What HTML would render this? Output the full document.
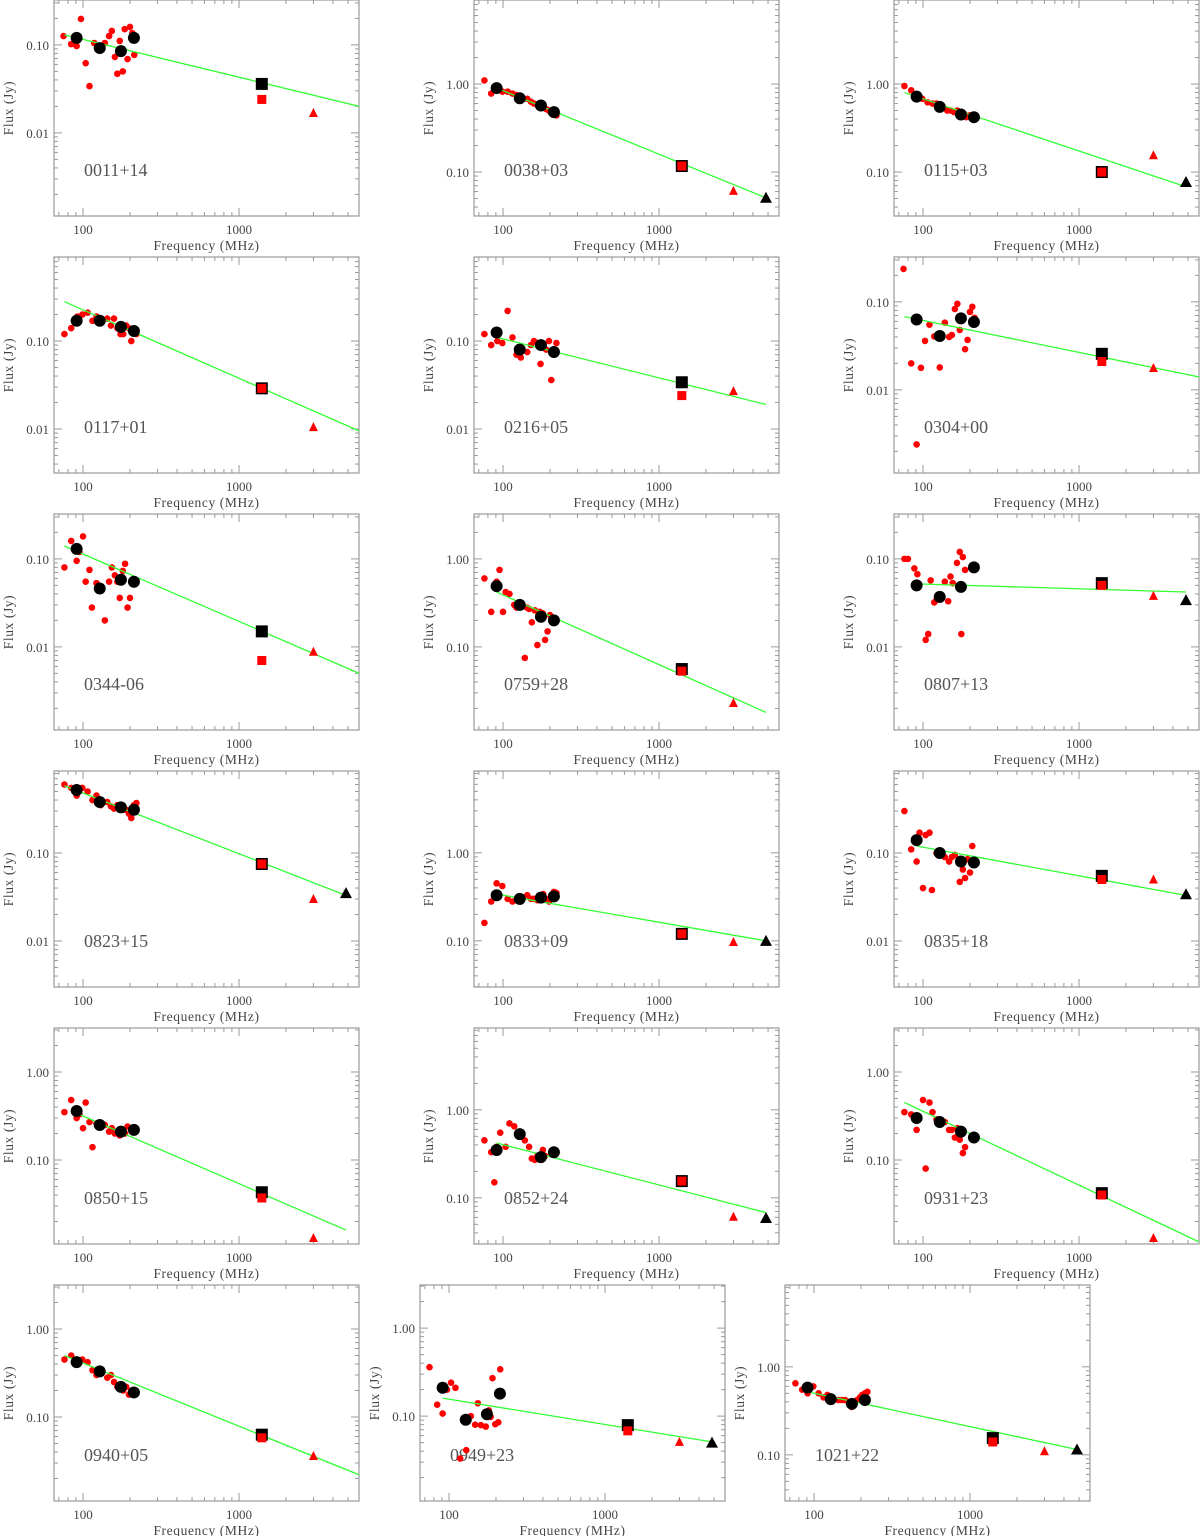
<!DOCTYPE html>
<html><head><meta charset="utf-8"><style>
html,body{margin:0;padding:0;background:#fff;}
svg{display:block;}
text{font-family:"Liberation Serif",serif;}
</style></head>
<body>
<svg id="chart" width="1200" height="1536" viewBox="0 0 1200 1536" xmlns="http://www.w3.org/2000/svg"></svg>
<script>
const names=["0011+14","0038+03","0115+03","0117+01","0216+05","0304+00","0344-06","0759+28","0807+13","0823+15","0833+09","0835+18","0850+15","0852+24","0931+23","0940+05","0949+23","1021+22"];
const yTops=[-0.49,0.955,0.955,-0.045,-0.045,-0.49,-0.49,0.51,-0.49,-0.068,0.93,-0.068,0.5,0.93,0.5,0.5,0.49,0.93];
const redDots=[
[[75,0.126],[84,0.102],[91,0.097],[97,0.197],[104,0.062],[110,0.034],[118,0.105],[138,0.105],[147,0.126],[153,0.144],[160,0.073],[166,0.047],[172,0.111],[180,0.05],[185,0.151],[193,0.069],[200,0.16],[207,0.136],[213,0.077]],
[[76,1.1],[84,0.78],[92,0.95],[99,0.82],[107,0.82],[115,0.78],[122,0.75],[130,0.7],[143,0.68],[151,0.63],[158,0.6],[166,0.58],[174,0.55],[181,0.55],[189,0.52],[197,0.5],[204,0.47],[212,0.46],[220,0.44]],
[[76,0.95],[84,0.85],[92,0.75],[99,0.68],[107,0.62],[115,0.6],[122,0.6],[130,0.58],[143,0.5],[151,0.5],[158,0.48],[166,0.5],[174,0.45],[181,0.47],[189,0.42],[197,0.44],[204,0.43],[212,0.42]],
[[76,0.12],[84,0.14],[92,0.19],[99,0.2],[107,0.21],[115,0.17],[122,0.19],[130,0.16],[143,0.18],[151,0.15],[158,0.18],[166,0.14],[174,0.12],[181,0.12],[189,0.15],[197,0.14],[204,0.1],[212,0.13],[220,0.12]],
[[76,0.12],[84,0.09],[92,0.1],[99,0.095],[107,0.22],[115,0.11],[122,0.07],[130,0.065],[143,0.075],[151,0.09],[158,0.1],[166,0.095],[174,0.055],[181,0.09],[189,0.08],[197,0.1],[204,0.036],[212,0.07],[220,0.095]],
[[75,0.237],[84,0.02],[91,0.0024],[97,0.0178],[103,0.036],[110,0.055],[118,0.0405],[128,0.018],[138,0.058],[147,0.04],[153,0.042],[160,0.083],[166,0.095],[172,0.048],[180,0.062],[186,0.029],[193,0.037],[200,0.077],[207,0.088],[214,0.066]],
[[76,0.08],[84,0.16],[91,0.095],[95,0.12],[100,0.18],[104,0.055],[110,0.075],[114,0.028],[122,0.053],[138,0.02],[147,0.055],[153,0.08],[160,0.065],[166,0.055],[172,0.036],[180,0.073],[186,0.088],[193,0.028],[200,0.036]],
[[76,0.6],[84,0.25],[91,0.55],[95,0.75],[100,0.25],[104,0.42],[110,0.4],[118,0.3],[122,0.28],[128,0.32],[138,0.075],[142,0.28],[147,0.27],[153,0.19],[160,0.26],[166,0.105],[172,0.25],[180,0.24],[186,0.12],[193,0.15],[200,0.23]],
[[76,0.1],[80,0.1],[88,0.078],[92,0.067],[104,0.012],[108,0.014],[112,0.057],[118,0.032],[122,0.034],[138,0.055],[145,0.033],[150,0.063],[155,0.053],[165,0.09],[172,0.12],[180,0.105],[186,0.075],[176,0.014]],
[[76,0.6],[84,0.55],[91,0.45],[99,0.55],[107,0.5],[115,0.4],[122,0.45],[130,0.35],[143,0.38],[151,0.34],[158,0.32],[166,0.35],[174,0.33],[181,0.31],[189,0.31],[197,0.28],[204,0.25],[212,0.35],[220,0.37]],
[[76,0.16],[84,0.28],[91,0.45],[99,0.42],[107,0.3],[115,0.28],[122,0.29],[130,0.28],[143,0.33],[151,0.3],[158,0.3],[166,0.29],[174,0.3],[181,0.34],[189,0.3],[197,0.28],[204,0.33],[212,0.36],[220,0.35]],
[[76,0.3],[84,0.11],[91,0.08],[95,0.17],[100,0.04],[104,0.16],[110,0.17],[114,0.038],[122,0.1],[138,0.09],[147,0.08],[153,0.09],[160,0.095],[172,0.047],[180,0.065],[186,0.052],[193,0.085],[200,0.06],[207,0.12]],
[[76,0.35],[84,0.48],[91,0.3],[95,0.33],[100,0.23],[104,0.45],[110,0.27],[115,0.14],[122,0.26],[138,0.25],[147,0.21],[153,0.23],[160,0.2],[166,0.21],[172,0.19],[180,0.22],[186,0.2],[193,0.24]],
[[76,0.45],[84,0.33],[88,0.15],[91,0.38],[96,0.55],[104,0.38],[110,0.7],[118,0.65],[125,0.5],[138,0.45],[147,0.38],[153,0.28],[160,0.27],[166,0.3],[172,0.3],[180,0.35],[186,0.3]],
[[76,0.35],[84,0.33],[91,0.22],[100,0.48],[104,0.08],[110,0.45],[115,0.35],[122,0.29],[138,0.27],[147,0.22],[153,0.22],[160,0.18],[166,0.23],[172,0.17],[180,0.12],[186,0.14]],
[[76,0.45],[84,0.5],[91,0.42],[99,0.45],[107,0.42],[115,0.34],[122,0.3],[130,0.35],[143,0.28],[151,0.3],[158,0.25],[166,0.22],[174,0.22],[181,0.2],[189,0.22],[197,0.18],[204,0.2],[212,0.18],[220,0.19]],
[[75,0.36],[84,0.135],[91,0.107],[97,0.2],[103,0.24],[110,0.21],[118,0.033],[129,0.041],[138,0.1],[147,0.08],[153,0.14],[160,0.079],[172,0.076],[180,0.116],[185,0.098],[190,0.27],[198,0.081],[207,0.085],[213,0.34]],
[[76,0.65],[84,0.55],[91,0.5],[99,0.6],[107,0.5],[115,0.45],[122,0.48],[130,0.42],[143,0.42],[151,0.42],[158,0.42],[166,0.4],[174,0.35],[181,0.38],[189,0.42],[197,0.45],[204,0.48],[212,0.5],[220,0.52]]
];
const blackFreqs=[91,128,175,212];
const blackFlux=[[0.12,0.092,0.085,0.12],[0.9,0.69,0.57,0.48],[0.72,0.55,0.45,0.42],[0.17,0.17,0.145,0.13],[0.125,0.08,0.09,0.075],[0.063,0.041,0.065,0.059],[0.13,0.046,0.058,0.055],[0.49,0.3,0.22,0.2],[0.05,0.037,0.048,0.08],[0.52,0.38,0.33,0.31],[0.33,0.3,0.31,0.32],[0.14,0.1,0.08,0.078],[0.36,0.25,0.21,0.22],[0.35,0.53,0.29,0.33],[0.3,0.27,0.21,0.18],[0.42,0.33,0.22,0.19],[0.21,0.091,0.105,0.18],[0.58,0.43,0.38,0.42]];
const blackSquare=[0.036,0.117,0.10,0.029,0.034,0.0257,0.015,0.056,0.053,0.075,0.12,0.055,0.043,0.155,0.042,0.063,0.079,0.155];
const redSquare=[0.024,0.117,0.10,0.029,0.024,0.021,0.007,0.053,0.05,0.075,0.12,0.05,0.037,0.155,0.04,0.058,0.068,0.14];
const redTri=[0.0168,0.061,0.155,0.0105,0.027,0.0177,0.0088,0.023,0.038,0.03,0.097,0.05,0.013,0.061,0.013,0.036,0.051,0.11];
const blackTri=[null,0.051,0.077,null,null,null,null,null,0.034,0.035,0.1,0.034,null,0.059,null,null,0.05,0.115];
const lineStart=[[76,0.13],[91,0.9],[76,0.8],[76,0.28],[91,0.11],[76,0.068],[76,0.14],[91,0.42],[91,0.052],[76,0.58],[91,0.34],[91,0.12],[91,0.34],[91,0.42],[76,0.45],[76,0.5],[91,0.16],[91,0.52]];
const lineEnd=[[5900,0.02],[4850,0.051],[4850,0.068],[5900,0.0095],[4850,0.019],[5900,0.014],[5900,0.005],[4850,0.018],[4850,0.042],[4850,0.033],[4850,0.1],[4850,0.033],[4850,0.016],[4850,0.068],[5900,0.0117],[5900,0.022],[4850,0.051],[4850,0.115]];

const NS="http://www.w3.org/2000/svg";
const svg=document.getElementById('chart');
function mk(tag,attrs,parent){const e=document.createElementNS(NS,tag);for(const k in attrs)e.setAttribute(k,attrs[k]);(parent||svg).appendChild(e);return e;}
const W=305,H=216,DEC=156,YDEC=88,XMIN=1.814;
const XMAX=XMIN+W/DEC;

names.forEach((nm,i)=>{
  const row=Math.floor(i/3),col=i%3;
  const ox=row<5?col*420:[0,366,731][col];
  const oy=row*257;
  const L=ox+54,T=oy;
  const top=yTops[i],bot=top-H/YDEC;
  const xs=f=>L+(Math.log10(f)-XMIN)*DEC;
  const ys=v=>T+(top-Math.log10(v))*YDEC;
  const g=mk('g',{});
  
  
  const clipId='c'+i;
  const cp=mk('clipPath',{id:clipId},g);mk('rect',{x:L,y:T,width:W,height:H},cp);
  const frame=mk('rect',{x:L,y:T,width:W,height:H,fill:'none',stroke:'#999','stroke-width':1.2},g);
  
  
  // x ticks
  for(let d=1;d<=3;d++){for(let k=1;k<10;k++){const f=k*Math.pow(10,d);const lf=Math.log10(f);if(lf<XMIN||lf>XMAX)continue;const x=xs(f);const len=k===1?8:4;
    mk('line',{x1:x,y1:T+H,x2:x,y2:T+H-len,stroke:'#999','stroke-width':1},g);
    mk('line',{x1:x,y1:T,x2:x,y2:T+len,stroke:'#999','stroke-width':1},g);
    if(k===1){const t=mk('text',{x:x,y:T+H+18,'text-anchor':'middle','font-size':13,fill:'#444'},g);t.textContent=String(f);
      
      }}}
  // y ticks
  for(let d=-4;d<=1;d++){for(let k=1;k<10;k++){const v=k*Math.pow(10,d);const lv=Math.log10(v);if(lv<bot||lv>top)continue;const y=ys(v);const len=k===1?8:4;
    mk('line',{x1:L,y1:y,x2:L+len,y2:y,stroke:'#999','stroke-width':1},g);
    mk('line',{x1:L+W,y1:y,x2:L+W-len,y2:y,stroke:'#999','stroke-width':1},g);
    if(k===1){const t=mk('text',{x:L-5,y:y+5,'text-anchor':'end','font-size':13,fill:'#444'},g);t.textContent=v>=1?v.toFixed(2):v.toFixed(2);
      
      }}}
  const xt=mk('text',{x:L+W/2,y:T+H+34,'text-anchor':'middle','font-size':13.5,fill:'#444','letter-spacing':'0.6'},g);xt.textContent='Frequency (MHz)';
  
  
  const yt=mk('text',{x:0,y:0,'text-anchor':'middle','font-size':13.5,fill:'#444','letter-spacing':'0.6',transform:`translate(${ox+13},${T+H/2}) rotate(-90)`},g);yt.textContent='Flux (Jy)';
  
  
  const lab=mk('text',{x:L+30,y:T+176,'font-size':18,fill:'#555','font-family':'Liberation Sans, sans-serif'},g);lab.textContent=nm;
  
  
  const dg=mk('g',{'clip-path':`url(#${clipId})`},g);
  // red dots
  redDots[i].forEach(p=>{const c=mk('circle',{cx:xs(p[0]),cy:ys(p[1]),r:3.3,fill:'#f00'},dg);
    
    });
  // line
  const ln=mk('line',{x1:xs(lineStart[i][0]),y1:ys(lineStart[i][1]),x2:xs(lineEnd[i][0]),y2:ys(lineEnd[i][1]),stroke:'#3f3','stroke-width':1.3},dg);
  
  
  // black circles
  blackFlux[i].forEach((v,j)=>{const c=mk('circle',{cx:xs(blackFreqs[j]),cy:ys(v),r:6,fill:'#000'},dg);
    
    });
  // squares
  const sx=xs(1400);
  const bs=mk('rect',{x:sx-6,y:ys(blackSquare[i])-6,width:12,height:12,fill:'#000'},dg);
  
  
  const rs=mk('rect',{x:sx-4.5,y:ys(redSquare[i])-4.5,width:9,height:9,fill:'#f00'},dg);
  
  
  // triangles
  const tx=xs(3000),ty=ys(redTri[i]);
  const rt=mk('polygon',{points:`${tx-4.5},${ty+4} ${tx+4.5},${ty+4} ${tx},${ty-5}`,fill:'#f00'},dg);
  
  
  if(blackTri[i]!==null){const bx=xs(4850),by=ys(blackTri[i]);
    const bt=mk('polygon',{points:`${bx-6},${by+5} ${bx+6},${by+5} ${bx},${by-6}`,fill:'#000'},dg);
    
    }
});
</script>
</body></html>
